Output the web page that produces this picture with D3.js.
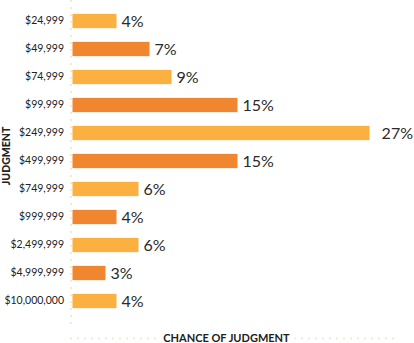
<!DOCTYPE html>
<html><head><meta charset="utf-8">
<script src="https://cdn.jsdelivr.net/npm/d3@7"></script>
<style>body{margin:0;background:#fff}svg{display:block}</style>
</head><body>
<script>
const categories = ["$24,999","$49,999","$74,999","$99,999","$249,999","$499,999","$749,999","$999,999","$2,499,999","$4,999,999","$10,000,000"];
const values = [4,7,9,15,27,15,6,4,6,3,4];
const colors = ["#fbb040","#f0862f"];
const xTitle = "CHANCE OF JUDGMENT";
const yTitle = "JUDGMENT";

const W = 414, H = 343;
const svg = d3.select("body").append("svg").attr("width", W).attr("height", H);
const x0 = 72.5;
const x = d3.scaleLinear().domain([0, 27]).range([x0, x0 + 297]);
const y = d3.scaleBand().domain(categories).range([7, 315]).paddingInner(0.49).paddingOuter(0.245);
const maxV = d3.max(values);

const dotColor = "#f3ead0";
svg.append("line").attr("x1", 71).attr("x2", 71).attr("y1", 0).attr("y2", 324)
  .attr("stroke", dotColor).attr("stroke-width", 2).attr("stroke-dasharray", "2,5");
svg.append("line").attr("x1", 70).attr("x2", 394).attr("y1", 338.5).attr("y2", 338.5)
  .attr("stroke", dotColor).attr("stroke-width", 2).attr("stroke-dasharray", "2,5");

svg.selectAll("rect.bar").data(values).enter().append("rect")
  .attr("class","bar")
  .attr("x", x(0))
  .attr("y", (d,i) => y(categories[i]))
  .attr("width", d => x(d) - x(0))
  .attr("height", y.bandwidth())
  .attr("fill", (d,i) => colors[i % 2]);

svg.selectAll("text.val").data(values).enter().append("text")
  .attr("x", d => d === maxV ? W - 1 : x(d) + 5)
  .attr("text-anchor", d => d === maxV ? "end" : "start")
  .attr("y", (d,i) => y(categories[i]) + y.bandwidth()/2)
  .attr("dy", "0.36em")
  .attr("font-family", "Lato, sans-serif").attr("font-weight", 400)
  .attr("font-size", 16).attr("fill", "#2a2a2a")
  .text(d => d + "%");

const yAxis = d3.axisLeft(y).tickSize(0).tickPadding(0);
const ga = svg.append("g").attr("transform", "translate(64,0)").call(yAxis);
ga.select(".domain").remove();
ga.selectAll("text").attr("font-family", "Lato, sans-serif").attr("font-size", 10.5).attr("fill", "#222");

const tx = 226.5;
svg.append("rect").attr("x", tx - 68).attr("y", 331).attr("width", 136).attr("height", 12).attr("fill", "#fff");
svg.append("text").attr("x", tx).attr("y", 338.5).attr("dy", "0.35em").attr("text-anchor", "middle")
  .attr("font-family", "Lato, sans-serif").attr("font-weight", 700).attr("font-size", 11).attr("fill", "#222")
  .text(xTitle);
svg.append("text").attr("transform", "translate(9.5,156) rotate(-90)").attr("text-anchor", "middle")
  .attr("font-family", "Lato, sans-serif").attr("font-weight", 900).attr("font-size", 10.5).attr("fill", "#222")
  .text(yTitle);
</script>
</body></html>
